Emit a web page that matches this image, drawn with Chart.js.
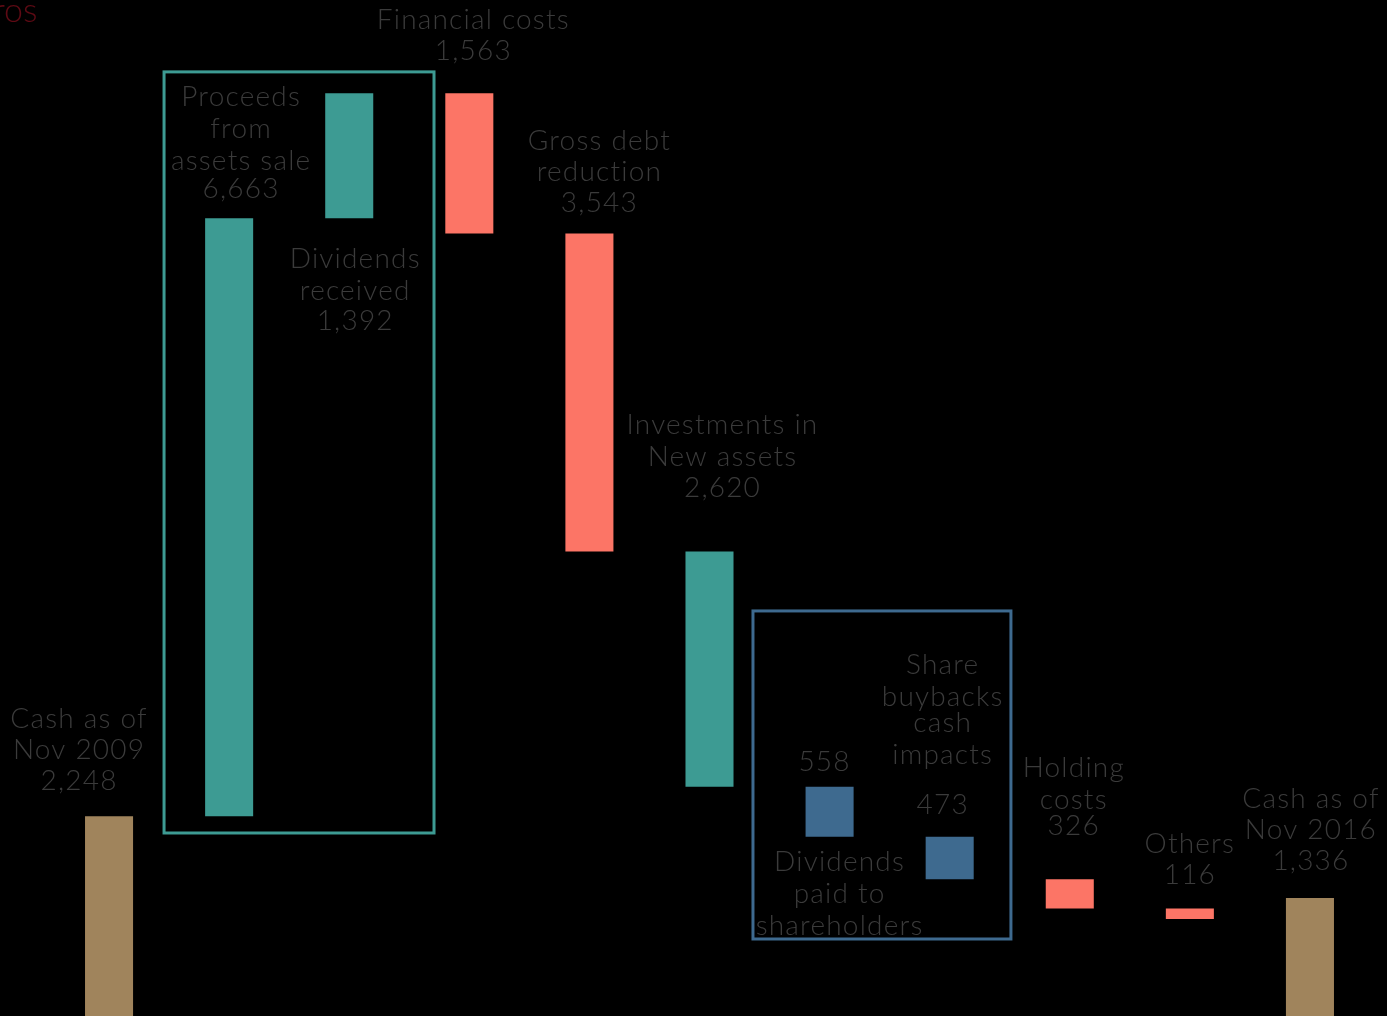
<!DOCTYPE html>
<html>
<head>
<meta charset="utf-8">
<script src="https://cdn.jsdelivr.net/npm/chart.js@4.4.1/dist/chart.umd.min.js"></script>
<style>
  html, body { margin: 0; padding: 0; background: #000; overflow: hidden; }
  canvas { display: block; }
</style>
</head>
<body>
<canvas id="chart" width="1387" height="1016"></canvas>
<script>
/* data */
const categories = ["Cash Nov 2009", "Proceeds", "Dividends received", "Financial costs", "Gross debt reduction",
  "Investments", "Dividends paid", "Share buybacks", "Holding costs", "Others", "Cash Nov 2016"];
const startCash = 2248;
const changes = [6663, 1392, -1563, -3543, -2620, -558, -473, -326, -116];
const endCash = 1336;
const barColors = ["#a0845c", "#3d9b93", "#3d9b93", "#fc7566", "#fc7566", "#3d9b93",
  "#3e6a8f", "#3e6a8f", "#fc7566", "#fc7566", "#a0845c"];

// floating bars: [low, high]
const ranges = [[0, startCash]];
let level = startCash;
changes.forEach(c => {
  const next = level + c;
  ranges.push([Math.min(level, next), Math.max(level, next)]);
  level = next;
});
ranges.push([0, endCash]);

/* labels: bar index, x offset, lines [text, y offset from bar top] */
const labels = [
  { i: 0, dx: -30, lines: [["Cash as of", -97], ["Nov 2009", -66], ["2,248", -35]] },
  { i: 1, dx: 12, lines: [["Proceeds", -121], ["from", -89], ["assets sale", -57], ["6,663", -29]] },
  { i: 2, dx: 6, lines: [["Dividends", 166], ["received", 198], ["1,392", 228]] },
  { i: 3, dx: 4, lines: [["Financial costs", -73], ["1,563", -42]] },
  { i: 4, dx: 10, lines: [["Gross debt", -93], ["reduction", -62], ["3,543", -31]] },
  { i: 5, dx: 13, lines: [["Investments in", -127], ["New assets", -95], ["2,620", -64]] },
  { i: 6, dx: -5, lines: [["558", -25]] },
  { i: 6, dx: 10, lines: [["Dividends", 75], ["paid to", 107], ["shareholders", 139]] },
  { i: 7, dx: -7, lines: [["Share", -172], ["buybacks", -140], ["cash", -114], ["impacts", -82]] },
  { i: 7, dx: -7, lines: [["473", -32]] },
  { i: 8, dx: 4, lines: [["Holding", -111], ["costs", -79], ["326", -53]] },
  { i: 9, dx: 0, lines: [["Others", -65], ["116", -34]] },
  { i: 10, dx: 1, lines: [["Cash as of", -99], ["Nov 2016", -68], ["1,336", -37]] }
];

/* grouping boxes in category index / value units */
const boxes = [
  { x0: 0.458, x1: 2.706, y0: 2061, y1: 10541, color: "#3d9b93" },
  { x0: 5.362, x1: 7.51, y0: 880, y1: 4535, color: "#3e6a8f" }
];

const overlay = {
  id: "overlay",
  afterDatasetsDraw(chart) {
    const { ctx, scales: { x, y } } = chart;
    ctx.save();
    boxes.forEach(b => {
      ctx.strokeStyle = b.color;
      ctx.lineWidth = 3;
      const l = x.getPixelForValue(b.x0), r = x.getPixelForValue(b.x1);
      const t = y.getPixelForValue(b.y1), btm = y.getPixelForValue(b.y0);
      ctx.strokeRect(l, t, r - l, btm - t);
    });
    ctx.fillStyle = "#3b3b3b";
    ctx.font = "300 28px Lato";
    ctx.letterSpacing = "1.2px";
    ctx.textAlign = "center";
    ctx.textBaseline = "middle";
    labels.forEach(lb => {
      const top = y.getPixelForValue(ranges[lb.i][1]);
      const cx = x.getPixelForValue(lb.i) + lb.dx;
      lb.lines.forEach(([t, dy]) => ctx.fillText(t, cx, top + dy));
    });
    // cut-off title fragment in the corner
    ctx.fillStyle = "#5e0a14";
    ctx.font = "300 34px Lato";
    ctx.letterSpacing = "0px";
    ctx.textAlign = "left";
    ctx.textBaseline = "alphabetic";
    ctx.fillText("ros", -7, 22);
    ctx.restore();
  }
};

new Chart(document.getElementById("chart").getContext("2d"), {
  type: "bar",
  data: {
    labels: categories,
    datasets: [{
      data: ranges,
      backgroundColor: barColors,
      borderWidth: 0,
      borderSkipped: false,
      barPercentage: 0.4,
      categoryPercentage: 1
    }]
  },
  options: {
    responsive: false,
    animation: false,
    layout: { padding: { left: 49, right: 17, top: 0, bottom: 0 } },
    plugins: { legend: { display: false }, tooltip: { enabled: false } },
    scales: {
      x: { display: false, offset: true, grid: { display: false } },
      y: { display: false, min: 22, max: 11342, grid: { display: false } }
    }
  },
  plugins: [overlay]
});
</script>
</body>
</html>
